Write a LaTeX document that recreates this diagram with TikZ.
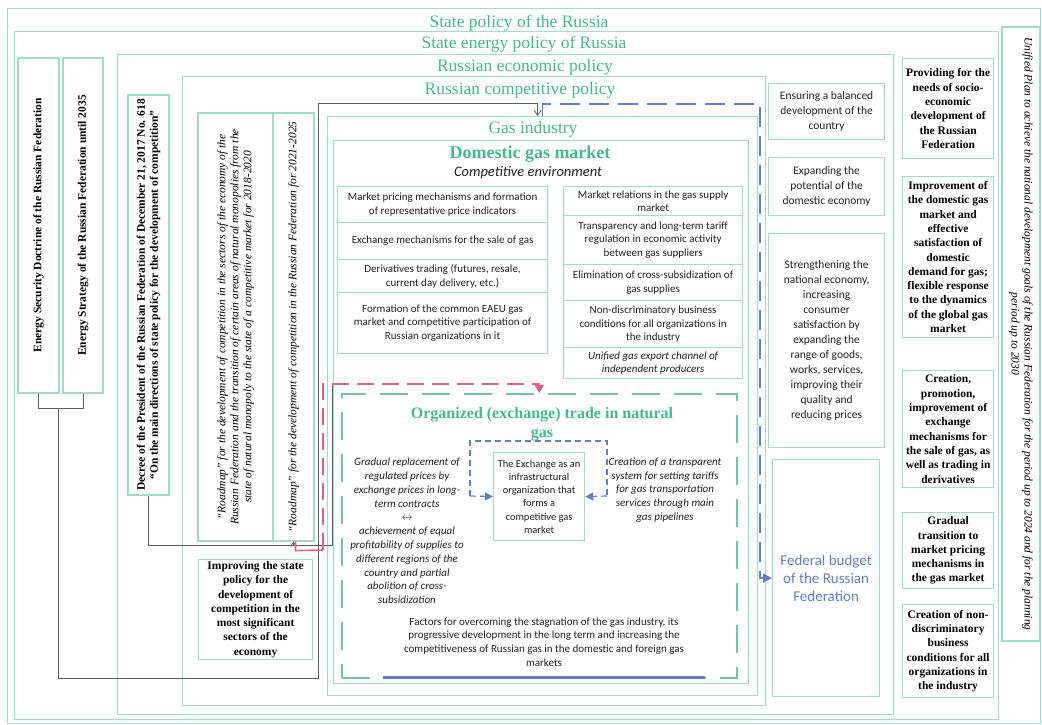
\documentclass[tikz,border=0pt]{standalone}
\usepackage{fontspec}
\setmainfont{Liberation Serif}
\newfontfamily\calib{Carlito}
\usepackage{tikz}
\usetikzlibrary{arrows.meta}
\definecolor{lgrn}{RGB}{160,220,200}
\definecolor{tgrn}{RGB}{70,185,140}
\definecolor{dgrn}{RGB}{110,200,165}
\definecolor{bl}{RGB}{100,125,200}
\definecolor{rd}{RGB}{232,95,130}
\definecolor{gry}{RGB}{95,95,95}
\definecolor{txt}{RGB}{35,35,35}

\begin{document}
\begin{tikzpicture}[x=1pt,y=-1pt,
  panel/.style={draw=lgrn,line width=1.2pt,inner sep=0pt,anchor=north west},
  ttl/.style={text=tgrn,anchor=base,font=\fontsize{17.5}{20}\selectfont},
  cbox/.style={panel,align=center,text=txt,font=\calib\fontsize{11}{13.8}\selectfont},
  colbox/.style={cbox,font=\calib\fontsize{11.5}{15}\selectfont},
  bbox/.style={panel,align=center,text=black,font=\bfseries\fontsize{11.5}{14.3}\selectfont},
  vbox/.style={draw=lgrn,line width=1.2pt,inner sep=0pt,align=center,rotate=90},
  grayln/.style={draw=gry,line width=0.8pt},
  redln/.style={draw=rd,line width=1.6pt},
  blueln/.style={draw=bl,line width=1.6pt,dash pattern=on 20pt off 9pt},
  bkln/.style={draw=bl,line width=1.2pt,dash pattern=on 6pt off 4pt}]
  \useasboundingbox (0,0) rectangle (1042,725);

  % nested policy frames
  \node[panel,minimum width=1033,minimum height=715] (sp) at (7,8) {};
  \node[ttl] (tsp) at (519,28) {State policy of the Russia};
  \node[panel,minimum width=984,minimum height=688] (sep) at (14,31) {};
  \node[ttl] (tsep) at (524,49) {State energy policy of Russia};
  \node[panel,minimum width=776,minimum height=660] (rep) at (117,54) {};
  \node[ttl] (trep) at (525,71) {Russian economic policy};
  \node[panel,minimum width=583,minimum height=629] (rcp) at (182,76) {};
  \node[ttl] (trcp) at (520,95) {Russian competitive policy};
  \node[panel,minimum width=430,minimum height=579] (gas) at (327,116) {};
  \node[ttl] (tgas) at (533,133) {Gas industry};
  \node[panel,minimum width=415,minimum height=543] (dom) at (333,140) {};
  \node[ttl,font=\bfseries\fontsize{18}{20}\selectfont] (tdom) at (530,158) {Domestic gas market};
  \node[anchor=base,text=txt,font=\calib\itshape\fontsize{14.5}{16}\selectfont] (tce) at (528,176) {Competitive environment};

  % competitive environment
  \node[cbox,minimum width=210,minimum height=36] (l1) at (337,186) {Market pricing mechanisms and formation\\of representative price indicators};
  \node[cbox,minimum width=210,minimum height=37] (l2) at (337,222) {Exchange mechanisms for the sale of gas};
  \node[cbox,minimum width=210,minimum height=33] (l3) at (337,259) {Derivatives trading (futures, resale,\\current day delivery, etc.)};
  \node[cbox,minimum width=210,minimum height=61] (l4) at (337,292) {Formation of the common EAEU gas\\market and competitive participation of\\Russian organizations in it};
  \node[cbox,minimum width=179,minimum height=29,font=\calib\fontsize{11}{13.3}\selectfont] (r1) at (563,186) {Market relations in the gas supply\\market};
  \node[cbox,minimum width=179,minimum height=49] (r2) at (563,215) {Transparency and long-term tariff\\regulation in economic activity\\between gas suppliers};
  \node[cbox,minimum width=179,minimum height=36] (r3) at (563,264) {Elimination of cross-subsidization of\\gas supplies};
  \node[cbox,minimum width=179,minimum height=47] (r4) at (563,300) {Non-discriminatory business\\conditions for all organizations in\\the industry};
  \node[cbox,minimum width=179,minimum height=31,font=\calib\itshape\fontsize{11}{13.3}\selectfont] (r5) at (563,347) {Unified gas export channel of\\independent producers};

  % organized trade
  \node[panel,draw=dgrn,line width=1.6pt,dash pattern=on 28pt off 14pt,minimum width=395,minimum height=284] (org) at (341,393) {};
  \draw[bl,line width=3pt] (383,677) -- (705,677);
  \node[text=tgrn,align=center,font=\bfseries\fontsize{16}{19}\selectfont] (torg) at (542,424) {Organized (exchange) trade in natural\\gas};
  \node[cbox,minimum width=91,minimum height=88,font=\calib\fontsize{10.5}{13.2}\selectfont] (exch) at (493,452) {The Exchange as an\\infrastructural\\organization that\\forms a\\competitive gas\\market};
  \node[align=center,text=txt,font=\calib\itshape\fontsize{11}{13.8}\selectfont] (lt) at (407,531) {Gradual replacement of\\regulated prices by\\exchange prices in long-\\term contracts\\$\leftrightarrow$\\achievement of equal\\profitability of supplies to\\different regions of the\\country and partial\\abolition of cross-\\subsidization};
  \node[align=center,text=txt,font=\calib\itshape\fontsize{11}{13.8}\selectfont] (rt) at (665,490) {Creation of a transparent\\system for setting tariffs\\for gas transportation\\services through main\\gas pipelines};
  \node[align=center,text=txt,font=\calib\fontsize{11}{13.8}\selectfont] (bt) at (544,642) {Factors for overcoming the stagnation of the gas industry, its\\progressive development in the long term and increasing the\\competitiveness of Russian gas in the domestic and foreign gas\\markets};

  % goals
  \node[colbox,minimum width=116,minimum height=56] (b1) at (768,83) {Ensuring a balanced\\development of the\\country};
  \node[colbox,minimum width=116,minimum height=58] (b2) at (768,157) {Expanding the\\potential of the\\domestic economy};
  \node[colbox,minimum width=116,minimum height=214] (b3) at (768,233) {Strengthening the\\national economy,\\increasing\\consumer\\satisfaction by\\expanding the\\range of goods,\\works, services,\\improving their\\quality and\\reducing prices};
  \node[cbox,minimum width=107,minimum height=237,text=bl,font=\calib\fontsize{15}{18}\selectfont] (fb) at (772,459) {Federal budget\\of the Russian\\Federation};

  \node[bbox,minimum width=91,minimum height=100] (c1) at (902,58) {Providing for the\\needs of socio-\\economic\\development of\\the Russian\\Federation};
  \node[bbox,minimum width=91,minimum height=161] (c2) at (902,176) {Improvement of\\the domestic gas\\market and\\effective\\satisfaction of\\domestic\\demand for gas;\\flexible response\\to the dynamics\\of the global gas\\market};
  \node[bbox,minimum width=91,minimum height=117] (c3) at (902,370) {Creation,\\promotion,\\improvement of\\exchange\\mechanisms for\\the sale of gas, as\\well as trading in\\derivatives};
  \node[bbox,minimum width=91,minimum height=76] (c4) at (902,512) {Gradual\\transition to\\market pricing\\mechanisms in\\the gas market};
  \node[bbox,minimum width=91,minimum height=93] (c5) at (902,604) {Creation of non-\\discriminatory\\business\\conditions for all\\organizations in\\the industry};
  \node[draw=lgrn,line width=1.2pt,inner sep=0pt,align=center,rotate=-90,minimum width=614,minimum height=38,font=\itshape\fontsize{11.5}{13}\selectfont] (uplan) at (1021,334) {Unified Plan to achieve the national development goals of the Russian Federation for the period up to 2024 and for the planning\\period up to 2030};

  % documents
  \node[vbox,minimum width=335,minimum height=41,font=\bfseries\fontsize{11.5}{14}\selectfont] (esd) at (38.5,225.5) {Energy Security Doctrine of the Russian Federation};
  \node[vbox,minimum width=335,minimum height=40,font=\bfseries\fontsize{11.5}{14}\selectfont] (est) at (83,225.5) {Energy Strategy of the Russian Federation until 2035};
  \node[vbox,minimum width=400,minimum height=41,font=\bfseries\fontsize{11.5}{13}\selectfont] (dec) at (148.5,295) {Decree of the President of the Russian Federation of December 21, 2017 No. 618\\``On the main directions of state policy for the development of competition''};
  \node[vbox,minimum width=428,minimum height=75,font=\itshape\fontsize{11.5}{13}\selectfont] (rm1) at (235.5,327) {``Roadmap'' for the development of competition in the sectors of the economy of the\\Russian Federation and the transition of certain areas of natural monopolies from the\\state of natural monopoly to the state of a competitive market for 2018-2020};
  \node[vbox,minimum width=428,minimum height=41,font=\itshape\fontsize{11.5}{13}\selectfont] (rm2) at (293.5,327) {``Roadmap'' for the development of competition in the Russian Federation for 2021-2025};
  \node[bbox,minimum width=114,minimum height=100] (imp) at (198,559) {Improving the state\\policy for the\\development of\\competition in the\\most significant\\sectors of the\\economy};

  % connectors
  \coordinate (edj) at (58,408);
  \coordinate (rmj) at (293.5,545);
  \coordinate (rj) at (323,550);
  \coordinate (bk1) at (470,496);
  \coordinate (bk2) at (607,496);
  \draw[grayln] (esd.west) -- ++(0,15) -| (est.west);
  \draw[grayln,-{Straight Barb[length=5pt,width=7pt]}] (edj) |- (318,678) -- (318,103) -| ([xshift=-5pt]gas.north);
  \draw[grayln] (dec.west) |- (332,545) -- (332,384);
  \draw[grayln,-{Straight Barb[length=4pt,width=6pt]}] (rmj) -- (rm2.west);
  \draw[redln] ([xshift=2pt]rm2.west) -- ++(0,9) -- (rj);
  \draw[redln,dash pattern=on 17pt off 8pt,-{Triangle[length=8pt,width=9pt]}] (rj) -- (323,384) -| (org.north);
  \draw[blueln,-{Triangle[length=9pt,width=9pt]}] (gas.north) |- (760,104) |- (fb.west);
  \draw[bkln] (bk1) |- (607,441) -- (bk2);
  \draw[bkln,-{Triangle[length=8pt,width=8pt]}] (bk1) -- (exch.west);
  \draw[bkln,-{Triangle[length=8pt,width=8pt]}] (bk2) -- (exch.east);
\end{tikzpicture}
\end{document}
